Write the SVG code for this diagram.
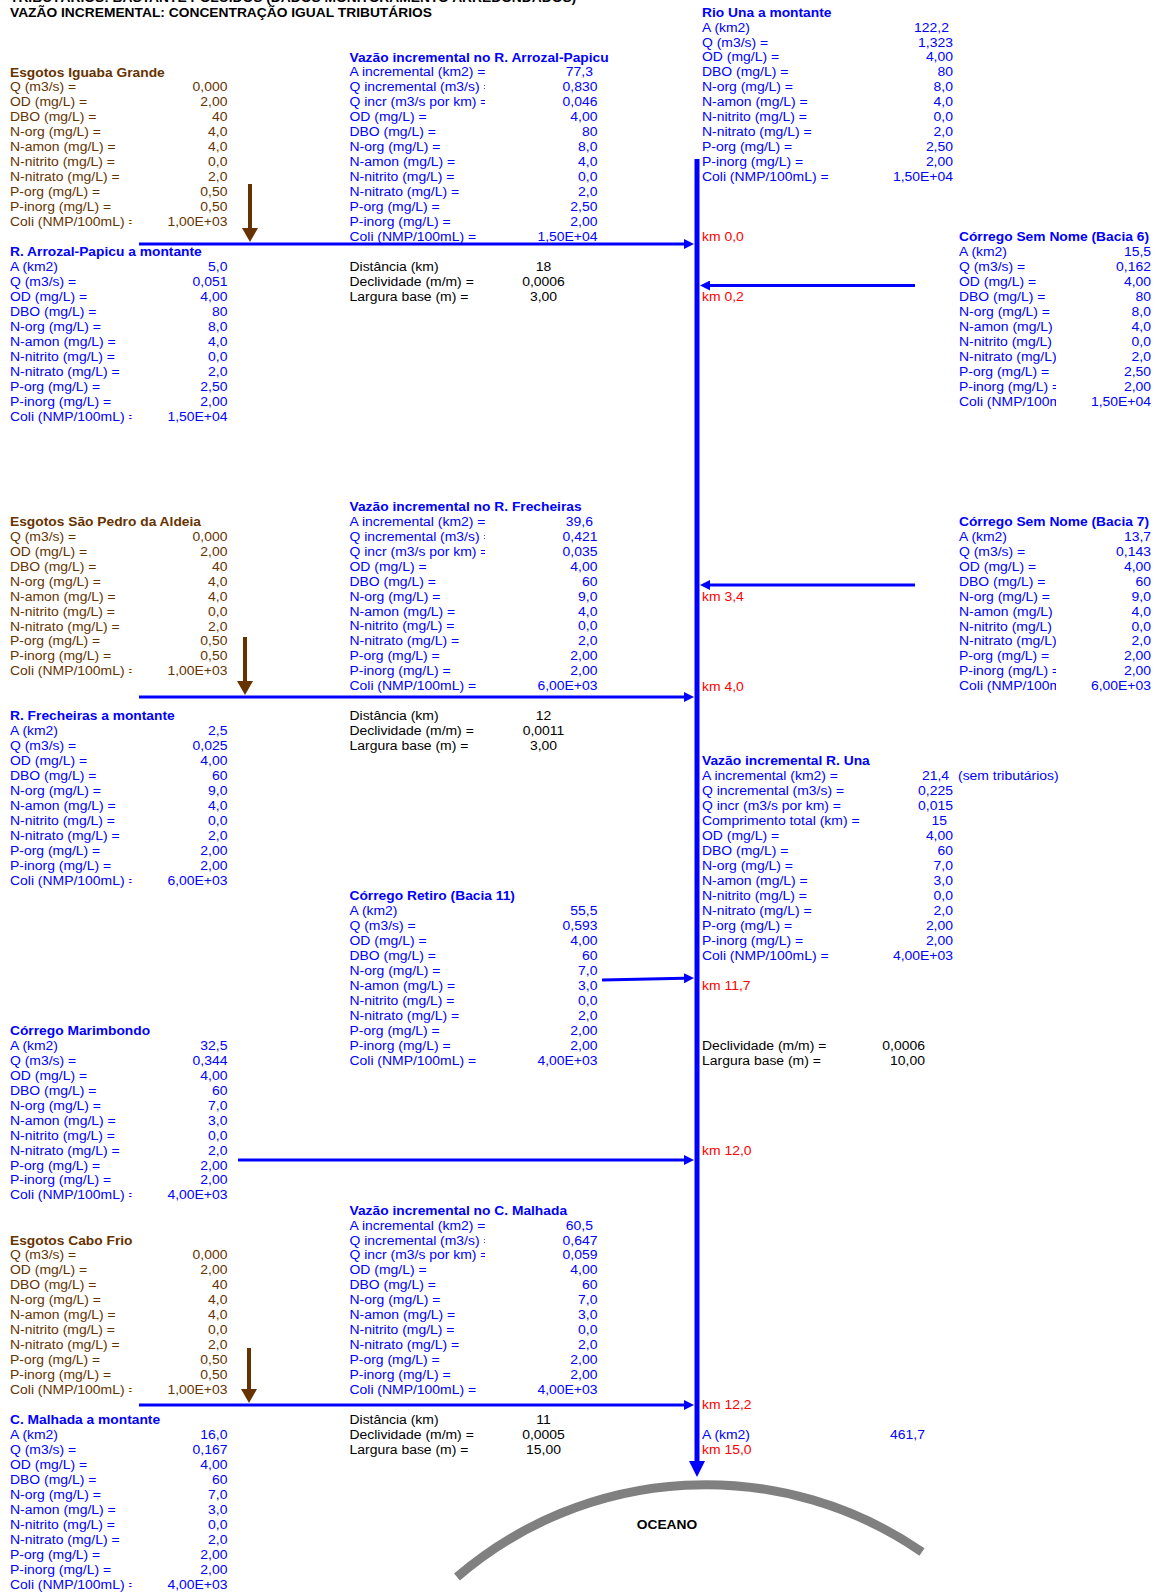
<svg xmlns="http://www.w3.org/2000/svg" width="1155" height="1593" viewBox="0 0 1155 1593">
<style>
text { font-family: "Liberation Sans", Arial, sans-serif; font-size: 13.95px; }
.h { font-weight: bold; font-size: 13.8px; }
.b { fill: #0000FF; }
.br { fill: #663300; }
.k { fill: #000000; }
.r { fill: #FF0000; }
.e { text-anchor: end; }
.m { text-anchor: middle; }
.cb { stroke: #0000FF; stroke-width: 3; fill: none; }
.cbr { stroke: #663300; stroke-width: 4; fill: none; }
</style>
<defs>
<marker id="aB" viewBox="0 0 10 10" refX="0" refY="5" markerWidth="10" markerHeight="10" markerUnits="userSpaceOnUse" orient="auto"><path d="M0,0 L10,5 L0,10 z" fill="#0000FF"/></marker>
<marker id="aBig" viewBox="0 0 16 16" refX="0" refY="8" markerWidth="16" markerHeight="16" markerUnits="userSpaceOnUse" orient="auto"><path d="M0,0 L16,8 L0,16 z" fill="#0000FF"/></marker>
<marker id="aBr" viewBox="0 0 14 16" refX="0" refY="8" markerWidth="14" markerHeight="16" markerUnits="userSpaceOnUse" orient="auto"><path d="M0,0 L14,8 L0,16 z" fill="#663300"/></marker>
<clipPath id="cL"><rect x="0" y="-50" width="131.5" height="400"/></clipPath>
<clipPath id="cM"><rect x="300" y="-50" width="185" height="400"/></clipPath>
<clipPath id="cR"><rect x="900" y="-50" width="156" height="400"/></clipPath>
</defs>
<rect width="1155" height="1593" fill="#FFFFFF"/>

<g id="titulo" class="k" transform="translate(0,1.6) scale(1,0.88)">
<text class="h" x="10" y="0">TRIBUTÁRIOS: BASTANTE POLUÍDOS (DADOS MONITORAMENTO ARREDONDADOS)</text>
<text class="h" x="10" y="17">VAZÃO INCREMENTAL: CONCENTRAÇÃO IGUAL TRIBUTÁRIOS</text>
</g>

<g id="connectors">
<line x1="697" y1="159" x2="697" y2="1461" stroke="#0000FF" stroke-width="5" marker-end="url(#aBig)"/>
<line class="cb" x1="139" y1="244" x2="684" y2="244" marker-end="url(#aB)"/>
<line class="cb" x1="915" y1="285.5" x2="710" y2="285.5" marker-end="url(#aB)"/>
<line class="cb" x1="915" y1="585" x2="710" y2="585" marker-end="url(#aB)"/>
<line class="cb" x1="139" y1="697" x2="684" y2="697" marker-end="url(#aB)"/>
<line class="cb" x1="602" y1="980" x2="684" y2="978.3" marker-end="url(#aB)"/>
<line class="cb" x1="238" y1="1160" x2="684" y2="1160" marker-end="url(#aB)"/>
<line class="cb" x1="139" y1="1405" x2="684" y2="1405" marker-end="url(#aB)"/>
<line class="cbr" x1="250" y1="184" x2="250" y2="228" marker-end="url(#aBr)"/>
<line class="cbr" x1="245" y1="637" x2="245" y2="681" marker-end="url(#aBr)"/>
<line class="cbr" x1="249" y1="1348" x2="249" y2="1389" marker-end="url(#aBr)"/>
</g>

<g id="rio-una-montante" class="b" transform="translate(0,16.6) scale(1,0.88)">
<text class="h" x="702" y="0">Rio Una a montante</text>
<text x="702" y="17">A (km2)</text>
<text x="702" y="34">Q (m3/s) =</text>
<text x="702" y="51">OD (mg/L) =</text>
<text x="702" y="68">DBO (mg/L) =</text>
<text x="702" y="85">N-org (mg/L) =</text>
<text x="702" y="102">N-amon (mg/L) =</text>
<text x="702" y="119">N-nitrito (mg/L) =</text>
<text x="702" y="136">N-nitrato (mg/L) =</text>
<text x="702" y="153">P-org (mg/L) =</text>
<text x="702" y="170">P-inorg (mg/L) =</text>
<text x="702" y="187">Coli (NMP/100mL) =</text>
<g class="e">
<text x="949" y="17">122,2</text>
<text x="953" y="34">1,323</text>
<text x="953" y="51">4,00</text>
<text x="953" y="68">80</text>
<text x="953" y="85">8,0</text>
<text x="953" y="102">4,0</text>
<text x="953" y="119">0,0</text>
<text x="953" y="136">2,0</text>
<text x="953" y="153">2,50</text>
<text x="953" y="170">2,00</text>
<text x="953" y="187">1,50E+04</text>
</g>
</g>

<g id="incr-arrozal" class="b" transform="translate(0,61.5) scale(1,0.88)">
<text class="h" x="349.5" y="0">Vazão incremental no R. Arrozal-Papicu</text>
<g clip-path="url(#cM)">
<text x="349.5" y="17">A incremental (km2) =</text>
<text x="349.5" y="34">Q incremental (m3/s) =</text>
<text x="349.5" y="51">Q incr (m3/s por km) =</text>
<text x="349.5" y="68">OD (mg/L) =</text>
<text x="349.5" y="85">DBO (mg/L) =</text>
<text x="349.5" y="102">N-org (mg/L) =</text>
<text x="349.5" y="119">N-amon (mg/L) =</text>
<text x="349.5" y="136">N-nitrito (mg/L) =</text>
<text x="349.5" y="153">N-nitrato (mg/L) =</text>
<text x="349.5" y="170">P-org (mg/L) =</text>
<text x="349.5" y="187">P-inorg (mg/L) =</text>
<text x="349.5" y="204">Coli (NMP/100mL) =</text>
</g>
<g class="e">
<text x="593" y="17">77,3</text>
<text x="597.5" y="34">0,830</text>
<text x="597.5" y="51">0,046</text>
<text x="597.5" y="68">4,00</text>
<text x="597.5" y="85">80</text>
<text x="597.5" y="102">8,0</text>
<text x="597.5" y="119">4,0</text>
<text x="597.5" y="136">0,0</text>
<text x="597.5" y="153">2,0</text>
<text x="597.5" y="170">2,50</text>
<text x="597.5" y="187">2,00</text>
<text x="597.5" y="204">1,50E+04</text>
</g>
</g>

<g id="esgotos-iguaba" class="br" transform="translate(0,76.5) scale(1,0.88)">
<text class="h" x="10" y="0">Esgotos Iguaba Grande</text>
<g clip-path="url(#cL)">
<text x="10" y="17">Q (m3/s) =</text>
<text x="10" y="34">OD (mg/L) =</text>
<text x="10" y="51">DBO (mg/L) =</text>
<text x="10" y="68">N-org (mg/L) =</text>
<text x="10" y="85">N-amon (mg/L) =</text>
<text x="10" y="102">N-nitrito (mg/L) =</text>
<text x="10" y="119">N-nitrato (mg/L) =</text>
<text x="10" y="136">P-org (mg/L) =</text>
<text x="10" y="153">P-inorg (mg/L) =</text>
<text x="10" y="170">Coli (NMP/100mL) =</text>
</g>
<g class="e">
<text x="227.5" y="17">0,000</text>
<text x="227.5" y="34">2,00</text>
<text x="227.5" y="51">40</text>
<text x="227.5" y="68">4,0</text>
<text x="227.5" y="85">4,0</text>
<text x="227.5" y="102">0,0</text>
<text x="227.5" y="119">2,0</text>
<text x="227.5" y="136">0,50</text>
<text x="227.5" y="153">0,50</text>
<text x="227.5" y="170">1,00E+03</text>
</g>
</g>

<g id="arrozal-montante" class="b" transform="translate(0,256.2) scale(1,0.88)">
<text class="h" x="10" y="0">R. Arrozal-Papicu a montante</text>
<g clip-path="url(#cL)">
<text x="10" y="17">A (km2)</text>
<text x="10" y="34">Q (m3/s) =</text>
<text x="10" y="51">OD (mg/L) =</text>
<text x="10" y="68">DBO (mg/L) =</text>
<text x="10" y="85">N-org (mg/L) =</text>
<text x="10" y="102">N-amon (mg/L) =</text>
<text x="10" y="119">N-nitrito (mg/L) =</text>
<text x="10" y="136">N-nitrato (mg/L) =</text>
<text x="10" y="153">P-org (mg/L) =</text>
<text x="10" y="170">P-inorg (mg/L) =</text>
<text x="10" y="187">Coli (NMP/100mL) =</text>
</g>
<g class="e">
<text x="227.5" y="17">5,0</text>
<text x="227.5" y="34">0,051</text>
<text x="227.5" y="51">4,00</text>
<text x="227.5" y="68">80</text>
<text x="227.5" y="85">8,0</text>
<text x="227.5" y="102">4,0</text>
<text x="227.5" y="119">0,0</text>
<text x="227.5" y="136">2,0</text>
<text x="227.5" y="153">2,50</text>
<text x="227.5" y="170">2,00</text>
<text x="227.5" y="187">1,50E+04</text>
</g>
</g>

<g id="trecho-arrozal" class="k" transform="translate(0,271.2) scale(1,0.88)">
<text x="349.5" y="0">Distância (km)</text>
<text x="349.5" y="17">Declividade (m/m) =</text>
<text x="349.5" y="34">Largura base (m) =</text>
<g class="m">
<text x="543.5" y="0">18</text>
<text x="543.5" y="17">0,0006</text>
<text x="543.5" y="34">3,00</text>
</g>
</g>

<g id="bacia-6" class="b" transform="translate(0,241.2) scale(1,0.88)">
<text class="h" x="959" y="0">Córrego Sem Nome (Bacia 6)</text>
<g clip-path="url(#cR)">
<text x="959" y="17">A (km2)</text>
<text x="959" y="34">Q (m3/s) =</text>
<text x="959" y="51">OD (mg/L) =</text>
<text x="959" y="68">DBO (mg/L) =</text>
<text x="959" y="85">N-org (mg/L) =</text>
<text x="959" y="102">N-amon (mg/L) =</text>
<text x="959" y="119">N-nitrito (mg/L) =</text>
<text x="959" y="136">N-nitrato (mg/L) =</text>
<text x="959" y="153">P-org (mg/L) =</text>
<text x="959" y="170">P-inorg (mg/L) =</text>
<text x="959" y="187">Coli (NMP/100mL) =</text>
</g>
<g class="e">
<text x="1151" y="17">15,5</text>
<text x="1151" y="34">0,162</text>
<text x="1151" y="51">4,00</text>
<text x="1151" y="68">80</text>
<text x="1151" y="85">8,0</text>
<text x="1151" y="102">4,0</text>
<text x="1151" y="119">0,0</text>
<text x="1151" y="136">2,0</text>
<text x="1151" y="153">2,50</text>
<text x="1151" y="170">2,00</text>
<text x="1151" y="187">1,50E+04</text>
</g>
</g>

<g id="esgotos-sao-pedro" class="br" transform="translate(0,525.8) scale(1,0.88)">
<text class="h" x="10" y="0">Esgotos São Pedro da Aldeia</text>
<g clip-path="url(#cL)">
<text x="10" y="17">Q (m3/s) =</text>
<text x="10" y="34">OD (mg/L) =</text>
<text x="10" y="51">DBO (mg/L) =</text>
<text x="10" y="68">N-org (mg/L) =</text>
<text x="10" y="85">N-amon (mg/L) =</text>
<text x="10" y="102">N-nitrito (mg/L) =</text>
<text x="10" y="119">N-nitrato (mg/L) =</text>
<text x="10" y="136">P-org (mg/L) =</text>
<text x="10" y="153">P-inorg (mg/L) =</text>
<text x="10" y="170">Coli (NMP/100mL) =</text>
</g>
<g class="e">
<text x="227.5" y="17">0,000</text>
<text x="227.5" y="34">2,00</text>
<text x="227.5" y="51">40</text>
<text x="227.5" y="68">4,0</text>
<text x="227.5" y="85">4,0</text>
<text x="227.5" y="102">0,0</text>
<text x="227.5" y="119">2,0</text>
<text x="227.5" y="136">0,50</text>
<text x="227.5" y="153">0,50</text>
<text x="227.5" y="170">1,00E+03</text>
</g>
</g>

<g id="incr-frecheiras" class="b" transform="translate(0,510.8) scale(1,0.88)">
<text class="h" x="349.5" y="0">Vazão incremental no R. Frecheiras</text>
<g clip-path="url(#cM)">
<text x="349.5" y="17">A incremental (km2) =</text>
<text x="349.5" y="34">Q incremental (m3/s) =</text>
<text x="349.5" y="51">Q incr (m3/s por km) =</text>
<text x="349.5" y="68">OD (mg/L) =</text>
<text x="349.5" y="85">DBO (mg/L) =</text>
<text x="349.5" y="102">N-org (mg/L) =</text>
<text x="349.5" y="119">N-amon (mg/L) =</text>
<text x="349.5" y="136">N-nitrito (mg/L) =</text>
<text x="349.5" y="153">N-nitrato (mg/L) =</text>
<text x="349.5" y="170">P-org (mg/L) =</text>
<text x="349.5" y="187">P-inorg (mg/L) =</text>
<text x="349.5" y="204">Coli (NMP/100mL) =</text>
</g>
<g class="e">
<text x="593" y="17">39,6</text>
<text x="597.5" y="34">0,421</text>
<text x="597.5" y="51">0,035</text>
<text x="597.5" y="68">4,00</text>
<text x="597.5" y="85">60</text>
<text x="597.5" y="102">9,0</text>
<text x="597.5" y="119">4,0</text>
<text x="597.5" y="136">0,0</text>
<text x="597.5" y="153">2,0</text>
<text x="597.5" y="170">2,00</text>
<text x="597.5" y="187">2,00</text>
<text x="597.5" y="204">6,00E+03</text>
</g>
</g>

<g id="bacia-7" class="b" transform="translate(0,525.8) scale(1,0.88)">
<text class="h" x="959" y="0">Córrego Sem Nome (Bacia 7)</text>
<g clip-path="url(#cR)">
<text x="959" y="17">A (km2)</text>
<text x="959" y="34">Q (m3/s) =</text>
<text x="959" y="51">OD (mg/L) =</text>
<text x="959" y="68">DBO (mg/L) =</text>
<text x="959" y="85">N-org (mg/L) =</text>
<text x="959" y="102">N-amon (mg/L) =</text>
<text x="959" y="119">N-nitrito (mg/L) =</text>
<text x="959" y="136">N-nitrato (mg/L) =</text>
<text x="959" y="153">P-org (mg/L) =</text>
<text x="959" y="170">P-inorg (mg/L) =</text>
<text x="959" y="187">Coli (NMP/100mL) =</text>
</g>
<g class="e">
<text x="1151" y="17">13,7</text>
<text x="1151" y="34">0,143</text>
<text x="1151" y="51">4,00</text>
<text x="1151" y="68">60</text>
<text x="1151" y="85">9,0</text>
<text x="1151" y="102">4,0</text>
<text x="1151" y="119">0,0</text>
<text x="1151" y="136">2,0</text>
<text x="1151" y="153">2,00</text>
<text x="1151" y="170">2,00</text>
<text x="1151" y="187">6,00E+03</text>
</g>
</g>

<g id="frecheiras-montante" class="b" transform="translate(0,720.4) scale(1,0.88)">
<text class="h" x="10" y="0">R. Frecheiras a montante</text>
<g clip-path="url(#cL)">
<text x="10" y="17">A (km2)</text>
<text x="10" y="34">Q (m3/s) =</text>
<text x="10" y="51">OD (mg/L) =</text>
<text x="10" y="68">DBO (mg/L) =</text>
<text x="10" y="85">N-org (mg/L) =</text>
<text x="10" y="102">N-amon (mg/L) =</text>
<text x="10" y="119">N-nitrito (mg/L) =</text>
<text x="10" y="136">N-nitrato (mg/L) =</text>
<text x="10" y="153">P-org (mg/L) =</text>
<text x="10" y="170">P-inorg (mg/L) =</text>
<text x="10" y="187">Coli (NMP/100mL) =</text>
</g>
<g class="e">
<text x="227.5" y="17">2,5</text>
<text x="227.5" y="34">0,025</text>
<text x="227.5" y="51">4,00</text>
<text x="227.5" y="68">60</text>
<text x="227.5" y="85">9,0</text>
<text x="227.5" y="102">4,0</text>
<text x="227.5" y="119">0,0</text>
<text x="227.5" y="136">2,0</text>
<text x="227.5" y="153">2,00</text>
<text x="227.5" y="170">2,00</text>
<text x="227.5" y="187">6,00E+03</text>
</g>
</g>

<g id="trecho-frecheiras" class="k" transform="translate(0,720.4) scale(1,0.88)">
<text x="349.5" y="0">Distância (km)</text>
<text x="349.5" y="17">Declividade (m/m) =</text>
<text x="349.5" y="34">Largura base (m) =</text>
<g class="m">
<text x="543.5" y="0">12</text>
<text x="543.5" y="17">0,0011</text>
<text x="543.5" y="34">3,00</text>
</g>
</g>

<g id="incr-una" class="b" transform="translate(0,765.4) scale(1,0.88)">
<text class="h" x="702" y="0">Vazão incremental R. Una</text>
<text x="702" y="17">A incremental (km2) =</text>
<text x="702" y="34">Q incremental (m3/s) =</text>
<text x="702" y="51">Q incr (m3/s por km) =</text>
<text x="702" y="68">Comprimento total (km) =</text>
<text x="702" y="85">OD (mg/L) =</text>
<text x="702" y="102">DBO (mg/L) =</text>
<text x="702" y="119">N-org (mg/L) =</text>
<text x="702" y="136">N-amon (mg/L) =</text>
<text x="702" y="153">N-nitrito (mg/L) =</text>
<text x="702" y="170">N-nitrato (mg/L) =</text>
<text x="702" y="187">P-org (mg/L) =</text>
<text x="702" y="204">P-inorg (mg/L) =</text>
<text x="702" y="221">Coli (NMP/100mL) =</text>
<text x="958" y="17">(sem tributários)</text>
<g class="e">
<text x="949" y="17">21,4</text>
<text x="953" y="34">0,225</text>
<text x="953" y="51">0,015</text>
<text x="947" y="68">15</text>
<text x="953" y="85">4,00</text>
<text x="953" y="102">60</text>
<text x="953" y="119">7,0</text>
<text x="953" y="136">3,0</text>
<text x="953" y="153">0,0</text>
<text x="953" y="170">2,0</text>
<text x="953" y="187">2,00</text>
<text x="953" y="204">2,00</text>
<text x="953" y="221">4,00E+03</text>
</g>
</g>

<g id="bacia-11" class="b" transform="translate(0,900.1) scale(1,0.88)">
<text class="h" x="349.5" y="0">Córrego Retiro (Bacia 11)</text>
<text x="349.5" y="17">A (km2)</text>
<text x="349.5" y="34">Q (m3/s) =</text>
<text x="349.5" y="51">OD (mg/L) =</text>
<text x="349.5" y="68">DBO (mg/L) =</text>
<text x="349.5" y="85">N-org (mg/L) =</text>
<text x="349.5" y="102">N-amon (mg/L) =</text>
<text x="349.5" y="119">N-nitrito (mg/L) =</text>
<text x="349.5" y="136">N-nitrato (mg/L) =</text>
<text x="349.5" y="153">P-org (mg/L) =</text>
<text x="349.5" y="170">P-inorg (mg/L) =</text>
<text x="349.5" y="187">Coli (NMP/100mL) =</text>
<g class="e">
<text x="597.5" y="17">55,5</text>
<text x="597.5" y="34">0,593</text>
<text x="597.5" y="51">4,00</text>
<text x="597.5" y="68">60</text>
<text x="597.5" y="85">7,0</text>
<text x="597.5" y="102">3,0</text>
<text x="597.5" y="119">0,0</text>
<text x="597.5" y="136">2,0</text>
<text x="597.5" y="153">2,00</text>
<text x="597.5" y="170">2,00</text>
<text x="597.5" y="187">4,00E+03</text>
</g>
</g>

<g id="trecho-una" class="k" transform="translate(0,1049.9) scale(1,0.88)">
<text x="702" y="0">Declividade (m/m) =</text>
<text x="702" y="17">Largura base (m) =</text>
<g class="e">
<text x="925" y="0">0,0006</text>
<text x="925" y="17">10,00</text>
</g>
</g>

<g id="marimbondo" class="b" transform="translate(0,1034.9) scale(1,0.88)">
<text class="h" x="10" y="0">Córrego Marimbondo</text>
<g clip-path="url(#cL)">
<text x="10" y="17">A (km2)</text>
<text x="10" y="34">Q (m3/s) =</text>
<text x="10" y="51">OD (mg/L) =</text>
<text x="10" y="68">DBO (mg/L) =</text>
<text x="10" y="85">N-org (mg/L) =</text>
<text x="10" y="102">N-amon (mg/L) =</text>
<text x="10" y="119">N-nitrito (mg/L) =</text>
<text x="10" y="136">N-nitrato (mg/L) =</text>
<text x="10" y="153">P-org (mg/L) =</text>
<text x="10" y="170">P-inorg (mg/L) =</text>
<text x="10" y="187">Coli (NMP/100mL) =</text>
</g>
<g class="e">
<text x="227.5" y="17">32,5</text>
<text x="227.5" y="34">0,344</text>
<text x="227.5" y="51">4,00</text>
<text x="227.5" y="68">60</text>
<text x="227.5" y="85">7,0</text>
<text x="227.5" y="102">3,0</text>
<text x="227.5" y="119">0,0</text>
<text x="227.5" y="136">2,0</text>
<text x="227.5" y="153">2,00</text>
<text x="227.5" y="170">2,00</text>
<text x="227.5" y="187">4,00E+03</text>
</g>
</g>

<g id="incr-malhada" class="b" transform="translate(0,1214.6) scale(1,0.88)">
<text class="h" x="349.5" y="0">Vazão incremental no C. Malhada</text>
<g clip-path="url(#cM)">
<text x="349.5" y="17">A incremental (km2) =</text>
<text x="349.5" y="34">Q incremental (m3/s) =</text>
<text x="349.5" y="51">Q incr (m3/s por km) =</text>
<text x="349.5" y="68">OD (mg/L) =</text>
<text x="349.5" y="85">DBO (mg/L) =</text>
<text x="349.5" y="102">N-org (mg/L) =</text>
<text x="349.5" y="119">N-amon (mg/L) =</text>
<text x="349.5" y="136">N-nitrito (mg/L) =</text>
<text x="349.5" y="153">N-nitrato (mg/L) =</text>
<text x="349.5" y="170">P-org (mg/L) =</text>
<text x="349.5" y="187">P-inorg (mg/L) =</text>
<text x="349.5" y="204">Coli (NMP/100mL) =</text>
</g>
<g class="e">
<text x="593" y="17">60,5</text>
<text x="597.5" y="34">0,647</text>
<text x="597.5" y="51">0,059</text>
<text x="597.5" y="68">4,00</text>
<text x="597.5" y="85">60</text>
<text x="597.5" y="102">7,0</text>
<text x="597.5" y="119">3,0</text>
<text x="597.5" y="136">0,0</text>
<text x="597.5" y="153">2,0</text>
<text x="597.5" y="170">2,00</text>
<text x="597.5" y="187">2,00</text>
<text x="597.5" y="204">4,00E+03</text>
</g>
</g>

<g id="esgotos-cabo-frio" class="br" transform="translate(0,1244.55) scale(1,0.88)">
<text class="h" x="10" y="0">Esgotos Cabo Frio</text>
<g clip-path="url(#cL)">
<text x="10" y="17">Q (m3/s) =</text>
<text x="10" y="34">OD (mg/L) =</text>
<text x="10" y="51">DBO (mg/L) =</text>
<text x="10" y="68">N-org (mg/L) =</text>
<text x="10" y="85">N-amon (mg/L) =</text>
<text x="10" y="102">N-nitrito (mg/L) =</text>
<text x="10" y="119">N-nitrato (mg/L) =</text>
<text x="10" y="136">P-org (mg/L) =</text>
<text x="10" y="153">P-inorg (mg/L) =</text>
<text x="10" y="170">Coli (NMP/100mL) =</text>
</g>
<g class="e">
<text x="227.5" y="17">0,000</text>
<text x="227.5" y="34">2,00</text>
<text x="227.5" y="51">40</text>
<text x="227.5" y="68">4,0</text>
<text x="227.5" y="85">4,0</text>
<text x="227.5" y="102">0,0</text>
<text x="227.5" y="119">2,0</text>
<text x="227.5" y="136">0,50</text>
<text x="227.5" y="153">0,50</text>
<text x="227.5" y="170">1,00E+03</text>
</g>
</g>

<g id="malhada-montante" class="b" transform="translate(0,1424.25) scale(1,0.88)">
<text class="h" x="10" y="0">C. Malhada a montante</text>
<g clip-path="url(#cL)">
<text x="10" y="17">A (km2)</text>
<text x="10" y="34">Q (m3/s) =</text>
<text x="10" y="51">OD (mg/L) =</text>
<text x="10" y="68">DBO (mg/L) =</text>
<text x="10" y="85">N-org (mg/L) =</text>
<text x="10" y="102">N-amon (mg/L) =</text>
<text x="10" y="119">N-nitrito (mg/L) =</text>
<text x="10" y="136">N-nitrato (mg/L) =</text>
<text x="10" y="153">P-org (mg/L) =</text>
<text x="10" y="170">P-inorg (mg/L) =</text>
<text x="10" y="187">Coli (NMP/100mL) =</text>
</g>
<g class="e">
<text x="227.5" y="17">16,0</text>
<text x="227.5" y="34">0,167</text>
<text x="227.5" y="51">4,00</text>
<text x="227.5" y="68">60</text>
<text x="227.5" y="85">7,0</text>
<text x="227.5" y="102">3,0</text>
<text x="227.5" y="119">0,0</text>
<text x="227.5" y="136">2,0</text>
<text x="227.5" y="153">2,00</text>
<text x="227.5" y="170">2,00</text>
<text x="227.5" y="187">4,00E+03</text>
</g>
</g>

<g id="trecho-malhada" class="k" transform="translate(0,1424.25) scale(1,0.88)">
<text x="349.5" y="0">Distância (km)</text>
<text x="349.5" y="17">Declividade (m/m) =</text>
<text x="349.5" y="34">Largura base (m) =</text>
<g class="m">
<text x="543.5" y="0">11</text>
<text x="543.5" y="17">0,0005</text>
<text x="543.5" y="34">15,00</text>
</g>
</g>

<g id="area-total" class="b" transform="translate(0,1439.2) scale(1,0.88)">
<text x="702" y="0">A (km2)</text>
<text class="e" x="925" y="0">461,7</text>
</g>

<g id="km-labels" class="r">
<g transform="translate(702,241.2) scale(1,0.88)"><text x="0" y="0">km 0,0</text></g>
<g transform="translate(702,301.1) scale(1,0.88)"><text x="0" y="0">km 0,2</text></g>
<g transform="translate(702,600.6) scale(1,0.88)"><text x="0" y="0">km 3,4</text></g>
<g transform="translate(702,690.5) scale(1,0.88)"><text x="0" y="0">km 4,0</text></g>
<g transform="translate(702,990.0) scale(1,0.88)"><text x="0" y="0">km 11,7</text></g>
<g transform="translate(702,1154.7) scale(1,0.88)"><text x="0" y="0">km 12,0</text></g>
<g transform="translate(702,1409.3) scale(1,0.88)"><text x="0" y="0">km 12,2</text></g>
<g transform="translate(702,1454.2) scale(1,0.88)"><text x="0" y="0">km 15,0</text></g>
</g>

<g id="oceano">
<path d="M457,1577 A381,381 0 0 1 922,1552" fill="none" stroke="#808080" stroke-width="9"/>
<g class="k" transform="translate(667,1529.1) scale(1,0.88)"><text class="h m" x="0" y="0">OCEANO</text></g>
</g>
</svg>
